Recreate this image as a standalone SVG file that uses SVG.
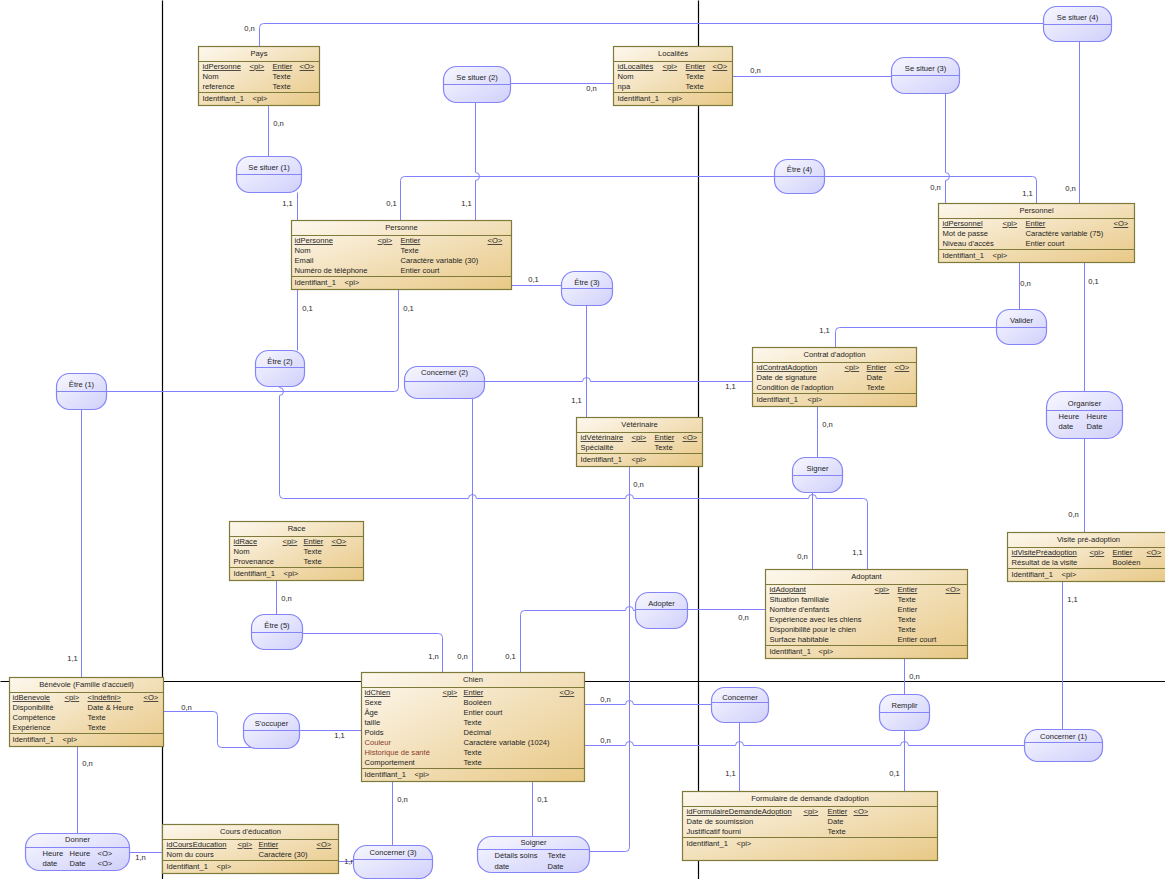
<svg xmlns="http://www.w3.org/2000/svg" width="1165" height="879" viewBox="0 0 1165 879">
<defs>
<linearGradient id="gE" x1="0" y1="0" x2="1" y2="1">
<stop offset="0" stop-color="#fdf8ee"/>
<stop offset="1" stop-color="#e8c886"/>
</linearGradient>
<linearGradient id="gA" x1="0" y1="0" x2="1" y2="1">
<stop offset="0" stop-color="#f7f7ff"/>
<stop offset="1" stop-color="#d0d0fb"/>
</linearGradient>
<style>
text{font-family:"Liberation Sans",Arial,sans-serif;font-size:7.6px;fill:#1e1e1e}
.ent rect{fill:url(#gE);stroke:#7e7a3a;stroke-width:1.2}
.ent line{stroke:#7e7a3a;stroke-width:1.2}
.as rect{fill:url(#gA);stroke:#8585f8;stroke-width:1.2}
.as line{stroke:#8585f8;stroke-width:1}
.m{text-anchor:middle}
.u{text-decoration:underline}
#connectors path{fill:none;stroke:#8080ff;stroke-width:1}
#grid path{stroke:#000;stroke-width:1.2;fill:none}
#labels text{text-anchor:middle}
.r{fill:#8a3b2b}
</style>
</defs>
<g transform="translate(0.5,0.5)">
<g id="grid">
<path d="M162,0V879M698,0V879M0,681H1165"/>
</g>
<g id="connectors">
<path d="M259,46V27Q259,23 263,23H1043"/>
<path d="M1079,41V203"/>
<path d="M268,105V156"/>
<path d="M297,192V220"/>
<path d="M510,83H613"/>
<path d="M475,102V172a4,4 0 0 1 0,8V220"/>
<path d="M732,76H891"/>
<path d="M945,93V172a4,4 0 0 1 0,8V203"/>
<path d="M400,220V180Q400,176 404,176H774"/>
<path d="M824,176H1032Q1036,176 1036,180V203"/>
<path d="M511,285H561"/>
<path d="M586,305V417"/>
<path d="M297,289V350"/>
<path d="M279,386V387a4,4 0 0 1 0,8V494Q279,498 283,498H468a4,4 0 0 1 8,0H625a4,4 0 0 1 8,0H808a4,4 0 0 1 8,0H863Q867,498 867,502V569"/>
<path d="M398,289V387Q398,391 394,391H106"/>
<path d="M81,409V677"/>
<path d="M484,381H582a4,4 0 0 1 8,0H752"/>
<path d="M472,398V672"/>
<path d="M629,466V847Q629,851 625,851H589"/>
<path d="M532,781V836"/>
<path d="M687,609H765"/>
<path d="M520,672V614Q520,610 524,610H625a4,4 0 0 1 8,0H635"/>
<path d="M276,580V614"/>
<path d="M302,633H438Q442,633 442,637V672"/>
<path d="M163,711H213Q217,711 217,715V743Q217,747 221,747H253"/>
<path d="M299,730H361"/>
<path d="M77,746V833"/>
<path d="M129,852H162"/>
<path d="M338,861H353"/>
<path d="M392,781V845"/>
<path d="M584,704H625a4,4 0 0 1 8,0H711"/>
<path d="M739,722V791"/>
<path d="M584,745H625a4,4 0 0 1 8,0H735a4,4 0 0 1 8,0H900a4,4 0 0 1 8,0H1024"/>
<path d="M1062,729V581"/>
<path d="M904,658V694"/>
<path d="M904,730V791"/>
<path d="M817,406V457"/>
<path d="M812,492V569"/>
<path d="M835,347V331Q835,327 839,327H996"/>
<path d="M1019,309V262"/>
<path d="M1084,262V391"/>
<path d="M1084,438V532"/>
</g>
<g id="labels">
<text x="249" y="30.75">0,n</text>
<text x="1070" y="190.75">0,n</text>
<text x="278" y="125.75">0,n</text>
<text x="287" y="205.75">1,1</text>
<text x="591" y="90.75">0,n</text>
<text x="466" y="205.75">1,1</text>
<text x="755" y="72.75">0,n</text>
<text x="935" y="189.75">0,n</text>
<text x="391" y="205.75">0,1</text>
<text x="1027" y="195.75">1,1</text>
<text x="533" y="281.75">0,1</text>
<text x="576" y="402.75">1,1</text>
<text x="307" y="310.75">0,1</text>
<text x="857" y="554.75">1,1</text>
<text x="408" y="310.75">0,1</text>
<text x="72" y="660.75">1,1</text>
<text x="730" y="388.75">1,1</text>
<text x="462" y="658.75">0,n</text>
<text x="638" y="486.75">0,n</text>
<text x="542" y="801.75">0,1</text>
<text x="743" y="619.75">0,n</text>
<text x="510" y="658.75">0,1</text>
<text x="286" y="600.75">0,n</text>
<text x="433" y="658.75">1,n</text>
<text x="186" y="709.75">0,n</text>
<text x="339" y="737.75">1,1</text>
<text x="87" y="765.75">0,n</text>
<text x="140" y="859.75">1,n</text>
<text x="349" y="863.75">1,n</text>
<text x="402" y="801.75">0,n</text>
<text x="605" y="701.75">0,n</text>
<text x="730" y="775.75">1,1</text>
<text x="605" y="742.75">0,n</text>
<text x="1072" y="601.75">1,1</text>
<text x="914" y="678.75">0,n</text>
<text x="894" y="775.75">0,1</text>
<text x="827" y="426.75">0,n</text>
<text x="802" y="558.75">0,n</text>
<text x="824" y="332.75">1,1</text>
<text x="1025" y="285.75">0,n</text>
<text x="1093" y="283.75">0,1</text>
<text x="1073" y="516.75">0,n</text>
</g>

<g id="pays" class="ent">
<rect x="198" y="46" width="121" height="59"/>
<line x1="198" y1="61" x2="319" y2="61"/><line x1="198" y1="92" x2="319" y2="92"/>
<text x="258.5" y="55.5" class="m">Pays</text>
<text x="202" y="68.5" class="u">idPersonne</text><text x="249" y="68.5" class="u">&lt;pi&gt;</text><text x="272" y="68.5" class="u">Entier</text><text x="299" y="68.5" class="u">&lt;O&gt;</text>
<text x="202" y="78.5">Nom</text><text x="272" y="78.5">Texte</text>
<text x="202" y="88.5">reference</text><text x="272" y="88.5">Texte</text>
<text x="202" y="100.5">Identifiant_1</text><text x="252" y="100.5">&lt;pi&gt;</text>
</g>

<g id="localites" class="ent">
<rect x="613" y="46" width="119" height="59"/>
<line x1="613" y1="61" x2="732" y2="61"/><line x1="613" y1="92" x2="732" y2="92"/>
<text x="672.5" y="55.5" class="m">Localités</text>
<text x="617" y="68.5" class="u">idLocalités</text><text x="662" y="68.5" class="u">&lt;pi&gt;</text><text x="685" y="68.5" class="u">Entier</text><text x="712" y="68.5" class="u">&lt;O&gt;</text>
<text x="617" y="78.5">Nom</text><text x="685" y="78.5">Texte</text>
<text x="617" y="88.5">npa</text><text x="685" y="88.5">Texte</text>
<text x="617" y="100.5">Identifiant_1</text><text x="667" y="100.5">&lt;pi&gt;</text>
</g>

<g id="personne" class="ent">
<rect x="291" y="220" width="220" height="69"/>
<line x1="291" y1="235" x2="511" y2="235"/><line x1="291" y1="276" x2="511" y2="276"/>
<text x="401" y="229.5" class="m">Personne</text>
<text x="294" y="242.5" class="u">idPersonne</text><text x="377" y="242.5" class="u">&lt;pi&gt;</text><text x="400" y="242.5" class="u">Entier</text><text x="487" y="242.5" class="u">&lt;O&gt;</text>
<text x="294" y="252.5">Nom</text><text x="400" y="252.5">Texte</text>
<text x="294" y="262.5">Email</text><text x="400" y="262.5">Caractère variable (30)</text>
<text x="294" y="272.5">Numéro de téléphone</text><text x="400" y="272.5">Entier court</text>
<text x="294" y="284.5">Identifiant_1</text><text x="344" y="284.5">&lt;pi&gt;</text>
</g>

<g id="personnel" class="ent">
<rect x="938" y="203" width="196" height="59"/>
<line x1="938" y1="218" x2="1134" y2="218"/><line x1="938" y1="249" x2="1134" y2="249"/>
<text x="1036" y="212.5" class="m">Personnel</text>
<text x="942" y="225.5" class="u">idPersonnel</text><text x="1002" y="225.5" class="u">&lt;pi&gt;</text><text x="1025" y="225.5" class="u">Entier</text><text x="1113" y="225.5" class="u">&lt;O&gt;</text>
<text x="942" y="235.5">Mot de passe</text><text x="1025" y="235.5">Caractère variable (75)</text>
<text x="942" y="245.5">Niveau d'accès</text><text x="1025" y="245.5">Entier court</text>
<text x="942" y="257.5">Identifiant_1</text><text x="992" y="257.5">&lt;pi&gt;</text>
</g>

<g id="veterinaire" class="ent">
<rect x="576" y="417" width="126" height="49"/>
<line x1="576" y1="432" x2="702" y2="432"/><line x1="576" y1="453" x2="702" y2="453"/>
<text x="639" y="426.5" class="m">Vétérinaire</text>
<text x="580" y="439.5" class="u">idVétérinaire</text><text x="631" y="439.5" class="u">&lt;pi&gt;</text><text x="654" y="439.5" class="u">Entier</text><text x="682" y="439.5" class="u">&lt;O&gt;</text>
<text x="580" y="449.5">Spécialité</text><text x="654" y="449.5">Texte</text>
<text x="580" y="461.5">Identifiant_1</text><text x="631" y="461.5">&lt;pi&gt;</text>
</g>

<g id="contrat" class="ent">
<rect x="752" y="347" width="164" height="59"/>
<line x1="752" y1="362" x2="916" y2="362"/><line x1="752" y1="393" x2="916" y2="393"/>
<text x="834" y="356.5" class="m">Contrat d'adoption</text>
<text x="756" y="369.5" class="u">idContratAdoption</text><text x="844" y="369.5" class="u">&lt;pi&gt;</text><text x="866" y="369.5" class="u">Entier</text><text x="894" y="369.5" class="u">&lt;O&gt;</text>
<text x="756" y="379.5">Date de signature</text><text x="866" y="379.5">Date</text>
<text x="756" y="389.5">Condition de l'adoption</text><text x="866" y="389.5">Texte</text>
<text x="756" y="401.5">Identifiant_1</text><text x="807" y="401.5">&lt;pi&gt;</text>
</g>

<g id="visite" class="ent">
<rect x="1007" y="532" width="162" height="49"/>
<line x1="1007" y1="547" x2="1169" y2="547"/><line x1="1007" y1="568" x2="1169" y2="568"/>
<text x="1088" y="541.5" class="m">Visite pré-adoption</text>
<text x="1011" y="554.5" class="u">idVisitePréadoption</text><text x="1089" y="554.5" class="u">&lt;pi&gt;</text><text x="1112" y="554.5" class="u">Entier</text><text x="1146" y="554.5" class="u">&lt;O&gt;</text>
<text x="1011" y="564.5">Résultat de la visite</text><text x="1112" y="564.5">Booléen</text>
<text x="1011" y="576.5">Identifiant_1</text><text x="1061" y="576.5">&lt;pi&gt;</text>
</g>

<g id="race" class="ent">
<rect x="229" y="521" width="134" height="59"/>
<line x1="229" y1="536" x2="363" y2="536"/><line x1="229" y1="567" x2="363" y2="567"/>
<text x="296" y="530.5" class="m">Race</text>
<text x="233" y="543.5" class="u">idRace</text><text x="282" y="543.5" class="u">&lt;pi&gt;</text><text x="303" y="543.5" class="u">Entier</text><text x="331" y="543.5" class="u">&lt;O&gt;</text>
<text x="233" y="553.5">Nom</text><text x="303" y="553.5">Texte</text>
<text x="233" y="563.5">Provenance</text><text x="303" y="563.5">Texte</text>
<text x="233" y="575.5">Identifiant_1</text><text x="283" y="575.5">&lt;pi&gt;</text>
</g>

<g id="adoptant" class="ent">
<rect x="765" y="569" width="202" height="89"/>
<line x1="765" y1="584" x2="967" y2="584"/><line x1="765" y1="645" x2="967" y2="645"/>
<text x="866" y="578.5" class="m">Adoptant</text>
<text x="769" y="591.5" class="u">idAdoptant</text><text x="874" y="591.5" class="u">&lt;pi&gt;</text><text x="897" y="591.5" class="u">Entier</text><text x="945" y="591.5" class="u">&lt;O&gt;</text>
<text x="769" y="601.5">Situation familiale</text><text x="897" y="601.5">Texte</text>
<text x="769" y="611.5">Nombre d'enfants</text><text x="897" y="611.5">Entier</text>
<text x="769" y="621.5">Expérience avec les chiens</text><text x="897" y="621.5">Texte</text>
<text x="769" y="631.5">Disponibilité pour le chien</text><text x="897" y="631.5">Texte</text>
<text x="769" y="641.5">Surface habitable</text><text x="897" y="641.5">Entier court</text>
<text x="769" y="653.5">Identifiant_1</text><text x="818" y="653.5">&lt;pi&gt;</text>
</g>

<g id="chien" class="ent">
<rect x="361" y="672" width="223" height="109"/>
<line x1="361" y1="687" x2="584" y2="687"/><line x1="361" y1="768" x2="584" y2="768"/>
<text x="472.5" y="681.5" class="m">Chien</text>
<text x="364" y="694.5" class="u">idChien</text><text x="442" y="694.5" class="u">&lt;pi&gt;</text><text x="463" y="694.5" class="u">Entier</text><text x="559" y="694.5" class="u">&lt;O&gt;</text>
<text x="364" y="704.5">Sexe</text><text x="463" y="704.5">Booléen</text>
<text x="364" y="714.5">Âge</text><text x="463" y="714.5">Entier court</text>
<text x="364" y="724.5">taille</text><text x="463" y="724.5">Texte</text>
<text x="364" y="734.5">Poids</text><text x="463" y="734.5">Décimal</text>
<text x="364" y="744.5" class="r">Couleur</text><text x="463" y="744.5">Caractère variable (1024)</text>
<text x="364" y="754.5" class="r">Historique de santé</text><text x="463" y="754.5">Texte</text>
<text x="364" y="764.5">Comportement</text><text x="463" y="764.5">Texte</text>
<text x="364" y="776.5">Identifiant_1</text><text x="414" y="776.5">&lt;pi&gt;</text>
</g>

<g id="benevole" class="ent">
<rect x="9" y="677" width="154" height="69"/>
<line x1="9" y1="692" x2="163" y2="692"/><line x1="9" y1="733" x2="163" y2="733"/>
<text x="86" y="686.5" class="m">Bénévole (Famille d'accueil)</text>
<text x="12" y="699.5" class="u">idBenevole</text><text x="64" y="699.5" class="u">&lt;pi&gt;</text><text x="87" y="699.5" class="u">&lt;Indéfini&gt;</text><text x="143" y="699.5" class="u">&lt;O&gt;</text>
<text x="12" y="709.5">Disponibilité</text><text x="87" y="709.5">Date &amp; Heure</text>
<text x="12" y="719.5">Compétence</text><text x="87" y="719.5">Texte</text>
<text x="12" y="729.5">Expérience</text><text x="87" y="729.5">Texte</text>
<text x="12" y="741.5">Identifiant_1</text><text x="62" y="741.5">&lt;pi&gt;</text>
</g>

<g id="cours" class="ent">
<rect x="162" y="824" width="176" height="49"/>
<line x1="162" y1="839" x2="338" y2="839"/><line x1="162" y1="860" x2="338" y2="860"/>
<text x="250" y="833.5" class="m">Cours d'éducation</text>
<text x="166" y="846.5" class="u">idCoursEducation</text><text x="237" y="846.5" class="u">&lt;pi&gt;</text><text x="258" y="846.5" class="u">Entier</text><text x="316" y="846.5" class="u">&lt;O&gt;</text>
<text x="166" y="856.5">Nom du cours</text><text x="258" y="856.5">Caractère (30)</text>
<text x="166" y="868.5">Identifiant_1</text><text x="216" y="868.5">&lt;pi&gt;</text>
</g>

<g id="formulaire" class="ent">
<rect x="682" y="791" width="255" height="69"/>
<line x1="682" y1="806" x2="937" y2="806"/><line x1="682" y1="837" x2="937" y2="837"/>
<text x="809.5" y="800.5" class="m">Formulaire de demande d'adoption</text>
<text x="686" y="813.5" class="u">idFormulaireDemandeAdoption</text><text x="803" y="813.5" class="u">&lt;pi&gt;</text><text x="827" y="813.5" class="u">Entier</text><text x="853" y="813.5" class="u">&lt;O&gt;</text>
<text x="686" y="823.5">Date de soumission</text><text x="827" y="823.5">Date</text>
<text x="686" y="833.5">Justificatif fourni</text><text x="827" y="833.5">Texte</text>
<text x="686" y="845.5">Identifiant_1</text><text x="736" y="845.5">&lt;pi&gt;</text>
</g>

<g id="se-situer-1" class="as"><rect x="236" y="156" width="65" height="36" rx="13"/><line x1="236" y1="174" x2="301" y2="174"/><text x="268.5" y="169.75" class="m">Se situer (1)</text></g>
<g id="se-situer-2" class="as"><rect x="443" y="66" width="67" height="36" rx="13"/><line x1="443" y1="84" x2="510" y2="84"/><text x="476.5" y="79.75" class="m">Se situer (2)</text></g>
<g id="se-situer-3" class="as"><rect x="891" y="57" width="68" height="36" rx="13"/><line x1="891" y1="75" x2="959" y2="75"/><text x="925" y="70.75" class="m">Se situer (3)</text></g>
<g id="se-situer-4" class="as"><rect x="1043" y="6" width="68" height="35" rx="13"/><line x1="1043" y1="24" x2="1111" y2="24"/><text x="1077" y="19.75" class="m">Se situer (4)</text></g>
<g id="etre-4" class="as"><rect x="774" y="159" width="50" height="34" rx="13"/><line x1="774" y1="176" x2="824" y2="176"/><text x="799" y="171.75" class="m">Être (4)</text></g>
<g id="etre-3" class="as"><rect x="561" y="271" width="51" height="34" rx="13"/><line x1="561" y1="288" x2="612" y2="288"/><text x="586.5" y="284.75" class="m">Être (3)</text></g>
<g id="etre-2" class="as"><rect x="255" y="350" width="49" height="36" rx="13"/><line x1="255" y1="367" x2="304" y2="367"/><text x="279.5" y="363.75" class="m">Être (2)</text></g>
<g id="etre-1" class="as"><rect x="56" y="373" width="50" height="36" rx="13"/><line x1="56" y1="391" x2="106" y2="391"/><text x="81" y="386.75" class="m">Être (1)</text></g>
<g id="concerner-2" class="as"><rect x="404" y="366" width="80" height="32" rx="13"/><line x1="404" y1="381" x2="484" y2="381"/><text x="444" y="374.75" class="m">Concerner (2)</text></g>
<g id="valider" class="as"><rect x="996" y="309" width="50" height="35" rx="13"/><line x1="996" y1="327" x2="1046" y2="327"/><text x="1021" y="322.75" class="m">Valider</text></g>
<g id="organiser" class="as"><rect x="1046" y="391" width="76" height="47" rx="16"/><line x1="1046" y1="410" x2="1122" y2="410"/><text x="1084" y="405.75" class="m">Organiser</text>
<text x="1058" y="418.75">Heure</text><text x="1086" y="418.75">Heure</text><text x="1058" y="428.75">date</text><text x="1086" y="428.75">Date</text></g>
<g id="signer" class="as"><rect x="792" y="457" width="50" height="35" rx="13"/><line x1="792" y1="475" x2="842" y2="475"/><text x="817" y="470.75" class="m">Signer</text></g>
<g id="adopter" class="as"><rect x="635" y="592" width="52" height="36" rx="13"/><line x1="635" y1="609" x2="687" y2="609"/><text x="661" y="605.75" class="m">Adopter</text></g>
<g id="etre-5" class="as"><rect x="251" y="614" width="51" height="35" rx="13"/><line x1="251" y1="632" x2="302" y2="632"/><text x="276.5" y="627.75" class="m">Être (5)</text></g>
<g id="soccuper" class="as"><rect x="243" y="713" width="56" height="35" rx="13"/><line x1="243" y1="730" x2="299" y2="730"/><text x="271" y="725.75" class="m">S'occuper</text></g>
<g id="donner" class="as"><rect x="25" y="833" width="104" height="37" rx="14"/><line x1="25" y1="847" x2="129" y2="847"/><text x="77" y="841.75" class="m">Donner</text>
<text x="42" y="855.75">Heure</text><text x="69" y="855.75">Heure</text><text x="97" y="855.75">&lt;O&gt;</text>
<text x="42" y="865.75">date</text><text x="69" y="865.75">Date</text><text x="97" y="865.75">&lt;O&gt;</text></g>
<g id="concerner-3" class="as"><rect x="353" y="845" width="79" height="33" rx="13"/><line x1="353" y1="859" x2="432" y2="859"/><text x="392.5" y="854.75" class="m">Concerner (3)</text></g>
<g id="soigner" class="as"><rect x="477" y="836" width="112" height="36" rx="14"/><line x1="477" y1="849" x2="589" y2="849"/><text x="533" y="844.75" class="m">Soigner</text>
<text x="494" y="857.75">Détails soins</text><text x="547" y="857.75">Texte</text>
<text x="494" y="868.75">date</text><text x="547" y="868.75">Date</text></g>
<g id="concerner" class="as"><rect x="711" y="687" width="57" height="35" rx="13"/><line x1="711" y1="702" x2="768" y2="702"/><text x="739.5" y="699.75" class="m">Concerner</text></g>
<g id="remplir" class="as"><rect x="879" y="694" width="50" height="36" rx="13"/><line x1="879" y1="712" x2="929" y2="712"/><text x="904" y="707.75" class="m">Remplir</text></g>
<g id="concerner-1" class="as"><rect x="1024" y="729" width="78" height="32" rx="13"/><line x1="1024" y1="742" x2="1102" y2="742"/><text x="1063" y="738.75" class="m">Concerner (1)</text></g>
</g>
</svg>
